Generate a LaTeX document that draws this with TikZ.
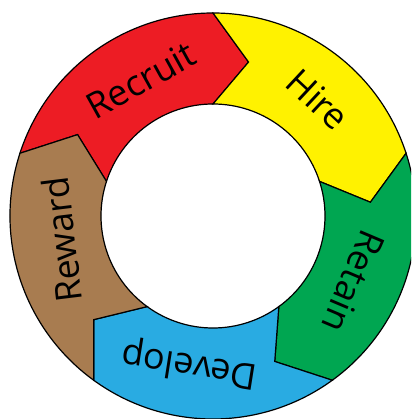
\documentclass[tikz,border=0pt]{standalone}
\usepackage{fontspec}
\setmainfont{Open Sans}
\usepackage{xcolor}
\usepackage{tikz}
\definecolor{recruitred}{RGB}{237,28,36}
\definecolor{hireyellow}{RGB}{255,242,0}
\definecolor{retaingreen}{RGB}{0,166,81}
\definecolor{developblue}{RGB}{41,171,226}
\definecolor{rewardbrown}{RGB}{168,124,80}
\tikzset{
  segment/.style={draw=black, line width=1.2pt, line join=miter},
  label/.style={font=\fontsize{36}{40}\selectfont, inner sep=0pt}
}

\begin{document}
\begin{tikzpicture}[x=1pt,y=1pt]
          \useasboundingbox (-213,-203) rectangle (198,216);
          \clip (-213,-203) rectangle (198,216);

          % % ARROW SEGMENTS, CLOCKWISE
          \filldraw[segment, fill=recruitred] (90:203pt) arc[start angle=90, end angle=162, radius=203pt]
            -- (149:158pt) -- (162:112pt) arc[start angle=162, end angle=90, radius=112pt] -- (77:158pt) -- cycle;
          \filldraw[segment, fill=hireyellow] (18:203pt) arc[start angle=18, end angle=90, radius=203pt]
            -- (77:158pt) -- (90:112pt) arc[start angle=90, end angle=18, radius=112pt] -- (5:158pt) -- cycle;
          \filldraw[segment, fill=retaingreen] (-54:203pt) arc[start angle=-54, end angle=18, radius=203pt]
            -- (5:158pt) -- (18:112pt) arc[start angle=18, end angle=-54, radius=112pt] -- (-67:158pt) -- cycle;
          \filldraw[segment, fill=developblue] (-126:203pt) arc[start angle=-126, end angle=-54, radius=203pt]
            -- (-67:158pt) -- (-54:112pt) arc[start angle=-54, end angle=-126, radius=112pt] -- (-139:158pt) -- cycle;
          \filldraw[segment, fill=rewardbrown] (-198:203pt) arc[start angle=-198, end angle=-126, radius=203pt]
            -- (-139:158pt) -- (-126:112pt) arc[start angle=-126, end angle=-198, radius=112pt] -- (-211:158pt) -- cycle;

          % % LABELS
          \node[label, rotate=29] (recruit) at (118:154pt) {Recruit};
          \node[label, rotate=-43] (hire) at (48:157pt) {Hire};
          \node[label, rotate=-113] (retain) at (-25:155pt) {Retain};
          \node[label, rotate=171] (develop) at (-99:150pt) {Develop};
          \node[label, rotate=97] (reward) at (189:153pt) {Reward};
        \end{tikzpicture}
\end{document}
